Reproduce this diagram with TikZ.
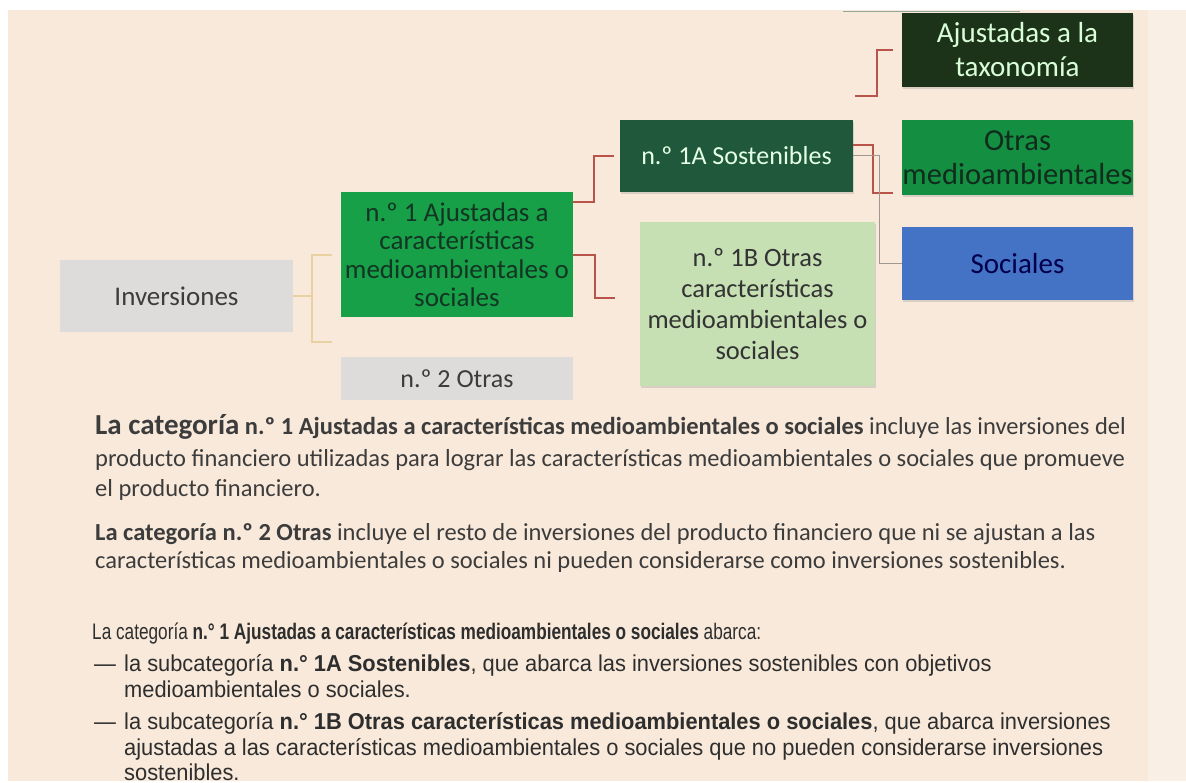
\documentclass[tikz,border=0pt]{standalone}
\usepackage{fontspec}
\setmainfont{Carlito}
\newfontfamily\arialn[FakeStretch=0.765]{Liberation Sans}
\newfontfamily\arialm[FakeStretch=0.95]{Liberation Sans}
\usetikzlibrary{shadows}
\definecolor{cream}{HTML}{F8E9DA}
\definecolor{creamlight}{HTML}{FAEFE5}
\definecolor{boxgray}{HTML}{DDDCDA}
\definecolor{green1}{HTML}{17A048}
\definecolor{green1A}{HTML}{1F583A}
\definecolor{green1B}{HTML}{C6E0B4}
\definecolor{greentax}{HTML}{1C3319}
\definecolor{greenotr}{HTML}{148E41}
\definecolor{bluesoc}{HTML}{4472C4}
\definecolor{redline}{HTML}{B8544A}
\definecolor{tanline}{HTML}{E8D2A2}
\definecolor{grayline}{HTML}{A09890}
\definecolor{txtgray}{HTML}{3C3C3C}
\definecolor{topline}{HTML}{8FA898}
\tikzset{
  box/.style={inner sep=0pt, align=center, text=txtgray,
    font=\fontsize{26}{31}\selectfont},
  bigbox/.style={box, font=\fontsize{29}{34}\selectfont},
  shad/.style={drop shadow={opacity=0.25, shadow xshift=1pt, shadow yshift=-2.5pt}},
  redc/.style={draw=redline, line width=2pt},
  tanc/.style={draw=tanline, line width=1.6pt},
  grayc/.style={draw=grayline, line width=0.8pt},
  ptxt/.style={inner sep=0pt, anchor=base west, text=txtgray,
    font=\fontsize{24.5}{29}\selectfont},
  qtxt/.style={inner sep=0pt, anchor=base west, text=black!82,
    font=\arialn\fontsize{22.5}{26}\selectfont},
  rtxt/.style={inner sep=0pt, anchor=base west, text=black!82,
    font=\arialm\fontsize{23}{27}\selectfont},
}
\begin{document}
\begin{tikzpicture}[x=1pt,y=-1pt]
\useasboundingbox (0,0) rectangle (1186,783);
\fill[white] (0,0) rectangle (1186,783);
\fill[cream] (8,10) rectangle (1148,781);
\fill[creamlight] (1148,10) rectangle (1186,781);
\draw[topline, line width=0.8pt] (843,11) -- (1020,11);

% boxes
\node[box, fill=boxgray, font=\fontsize{27}{31}\selectfont, minimum width=233pt, minimum height=72pt] (inv) at (176.5,296) {Inversiones};
\node[box, fill=green1, text=green1A!60!black, font=\fontsize{27}{28.5}\selectfont, minimum width=232pt, minimum height=125pt] (n1) at (457,254.5)
  {n.º 1 Ajustadas a\\características\\medioambientales o\\sociales};
\node[box, fill=boxgray, minimum width=232pt, minimum height=43pt] (n2) at (457,378.5) {n.º 2 Otras};
\node[box, shad, fill=green1A, text=white!90!green, minimum width=233pt, minimum height=72pt] (a1) at (736.5,156) {n.º 1A Sostenibles};
\node[box, shad, fill=green1B, text=black!80, font=\fontsize{26.5}{31}\selectfont, minimum width=235pt, minimum height=164pt] (b1) at (757.5,304)
  {n.º 1B Otras\\características\\medioambientales o\\sociales};
\node[bigbox, shad, fill=greentax, text=white!85!green, minimum width=231pt, minimum height=74pt] (tax) at (1017.5,50)
  {Ajustadas a la\\taxonomía};
\node[bigbox, shad, fill=greenotr, text=green1A!50!black, font=\fontsize{30.5}{34}\selectfont, minimum width=231pt, minimum height=75pt] (otr) at (1017.5,157.5)
  {Otras\\medioambientales};
\node[bigbox, shad, fill=bluesoc, text=blue!30!black, minimum width=231pt, minimum height=73pt] (soc) at (1017.5,263.5) {Sociales};

% connectors
\coordinate (invJ) at (312,296);
\coordinate (ta) at (332,255);
\coordinate (tb) at (332,342);
\draw[tanc] (inv.east) -- (invJ);
\draw[tanc] (ta) -| (invJ) |- (tb);
\draw[redc] ([yshift=-10pt]n1.north east) -- ++(21,0) |- ([xshift=-6pt]a1.west);
\draw[redc] ([yshift=-63pt]n1.north east) -- ++(22,0) |- ([xshift=-25pt,yshift=6pt]b1.west);
\draw[redc] ([yshift=11pt]a1.east) -- ++(20,0) |- ([xshift=-9pt,yshift=2pt]otr.south west);
\draw[grayc] ([yshift=1pt]a1.east) -- ++(26,0) |- (soc.west);
\coordinate (tfree) at (855,96);
\draw[redc] (tfree) -- ++(22,0) |- ([xshift=-9pt]tax.west);

% paragraph 1
\node[ptxt] (p1a) at (95,435) {{\fontsize{29}{34}\selectfont\bfseries La categoría} \textbf{n.º 1 Ajustadas a características medioambientales o sociales} incluye las inversiones del};
\node[ptxt] (p1b) at (95,466) {producto financiero utilizadas para lograr las características medioambientales o sociales que promueve};
\node[ptxt] (p1c) at (95,496) {el producto financiero.};
% paragraph 2
\node[ptxt] (p2a) at (95,540) {\textbf{La categoría n.º 2 Otras} incluye el resto de inversiones del producto financiero que ni se ajustan a las};
\node[ptxt] (p2b) at (95,568) {características medioambientales o sociales ni pueden considerarse como inversiones sostenibles.};
% paragraph 3
\node[qtxt] (q1) at (92,639) {La categoría \textbf{n.° 1 Ajustadas a características medioambientales o sociales} abarca:};
\node[rtxt] (q2d) at (94,671) {—};
\node[rtxt] (q2) at (124,671) {la subcategoría \textbf{n.° 1A Sostenibles}, que abarca las inversiones sostenibles con objetivos};
\node[rtxt] (q3) at (124,697) {medioambientales o sociales.};
\node[rtxt] (q4d) at (94,729) {—};
\node[rtxt] (q4) at (124,729) {la subcategoría \textbf{n.° 1B Otras características medioambientales o sociales}, que abarca inversiones};
\node[rtxt] (q5) at (124,755) {ajustadas a las características medioambientales o sociales que no pueden considerarse inversiones};
\node[rtxt] (q6) at (124,780.5) {sostenibles.};
\end{tikzpicture}
\end{document}
